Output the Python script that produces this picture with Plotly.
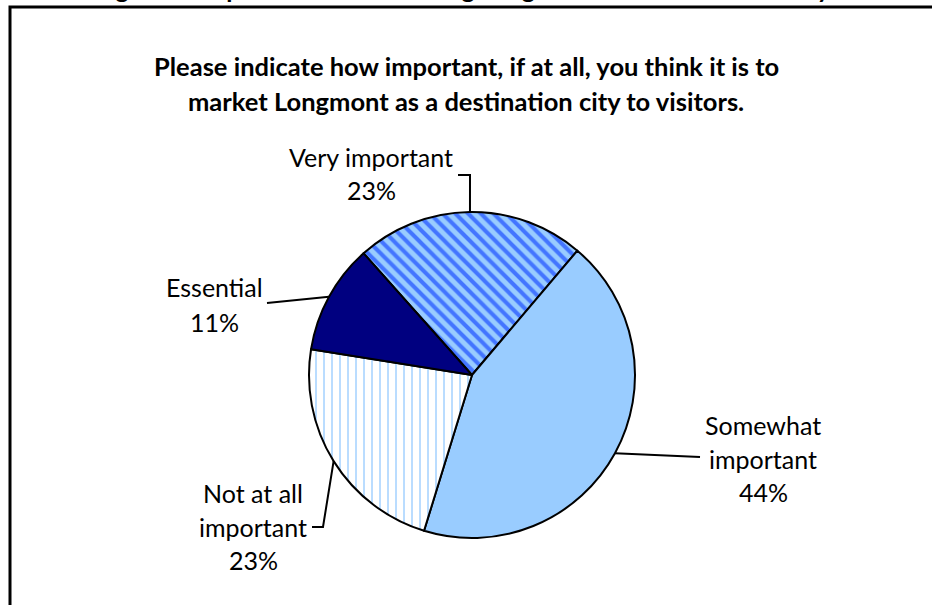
import numpy as np
import plotly.graph_objects as pgo

# Data
labels = ["Very important", "Somewhat important", "Not at all important", "Essential"]
label_lines = [["Very important"], ["Somewhat", "important"], ["Not at all", "important"], ["Essential"]]
values = [23, 44, 23, 11]
colours = ["#99CCFF", "#99CCFF", "#FFFFFF", "#000080"]

title_lines = ["Please indicate how important, if at all, you think it is to",
               "market Longmont as a destination city to visitors."]
header = "Figure 9: Importance of Marketing Longmont as a Destination City"

# Page geometry (pixels)
W, H = 932, 605
cx, cy, R = 472, 375, 163
start_angle = 318.3

def px(x):
    return x / W

def py(y):
    return 1 - y / H

fig = pgo.Figure()

fig.add_trace(pgo.Pie(
    labels=labels, values=values, sort=False, direction="clockwise",
    rotation=start_angle - 360,
    textinfo="none", hoverinfo="none", showlegend=False,
    domain=dict(x=[px(cx - R), px(cx + R)], y=[py(cy + R), py(cy - R)]),
    marker=dict(colors=colours, line=dict(color="black", width=2),
                pattern=dict(shape=["\\", "", "|", ""],
                             fgcolor=["#3366FF", "#99CCFF", "#99CCFF", "#000080"],
                             bgcolor=colours,
                             fgopacity=0.85,
                             size=[9, 8, 8, 8],
                             solidity=[0.45, 0.2, 0.2, 0.2]))
))

# Leader lines and labels, anchored at each slice's mid-angle
total = sum(values)
angles = []
a = start_angle
for v in values:
    angles.append(a + v / total * 360 / 2)
    a += v / total * 360

# label layout: (text centre x, first line y, line step, leader knee, leader end)
label_pos = [
    (371, 157, 33, (470, 175), (458, 175)),
    (763, 425, 33.5, None, (700, 457)),
    (253, 493, 33.5, (323, 527), (312, 527)),
    (214, 287, 35, None, (267, 303)),
]

font_lab = dict(family="Lato", size=25, color="black")
for i, (lx, ly, step, knee, end) in enumerate(label_pos):
    ang = np.radians(angles[i])
    ax_ = cx + R * np.sin(ang)
    ay_ = cy - R * np.cos(ang)
    pts = [(ax_, ay_)] + ([knee] if knee else []) + [end]
    path = "M " + " L ".join(f"{px(x)} {py(y)}" for x, y in pts)
    fig.add_shape(type="path", path=path, xref="paper", yref="paper",
                  line=dict(color="black", width=2))
    lines = label_lines[i] + [f"{values[i]}%"]
    for j, t in enumerate(lines):
        fig.add_annotation(text=t, x=px(lx), y=py(ly + j * step), xref="paper", yref="paper",
                           showarrow=False, xanchor="center", yanchor="middle", font=font_lab)

# Title
for j, t in enumerate(title_lines):
    fig.add_annotation(text=f"<b>{t}</b>", x=px(466), y=py(66 + j * 35), xref="paper", yref="paper",
                       showarrow=False, xanchor="center", yanchor="middle",
                       font=dict(family="Lato", size=25.5, color="black"))

# Clipped header above the frame
fig.add_annotation(text=f"<b>{header}</b>", x=px(463), y=py(-12), xref="paper", yref="paper",
                   showarrow=False, xanchor="center", yanchor="middle",
                   font=dict(family="Lato", size=25, color="black"))

# Frame
fig.add_shape(type="rect", xref="paper", yref="paper", x0=px(10), y0=py(7), x1=1.1, y1=-0.1,
              line=dict(color="black", width=3))

fig.update_layout(width=W, height=H, margin=dict(l=0, r=0, t=0, b=0),
                  paper_bgcolor="white", plot_bgcolor="white")

fig.write_html("out.html", config={"displayModeBar": False},
               post_script="document.body.style.margin = '0';")
